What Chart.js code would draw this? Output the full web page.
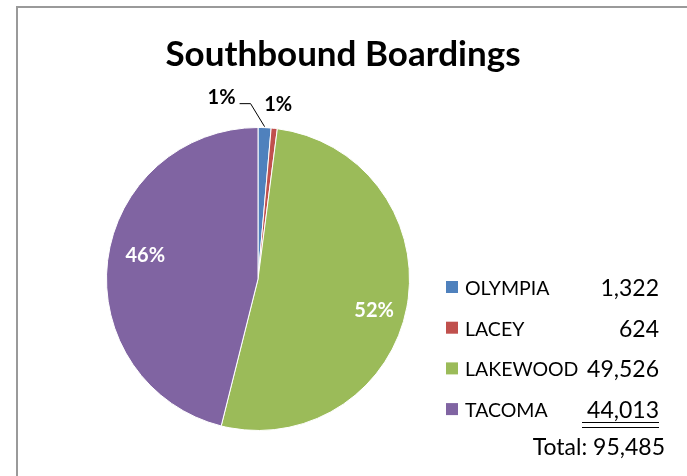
<!DOCTYPE html>
<html lang="en">
<head>
  <meta charset="UTF-8" />
  <title>Southbound Boardings</title>
  <script src="https://cdn.jsdelivr.net/npm/chart.js"></script>
  <style>
    html, body {
      margin: 0;
      padding: 0;
      background: #fff;
    }
    #wrap {
      width: 687px;
      height: 476px;
    }
  </style>
</head>
<body>

<div id="wrap"><canvas id="boardingsChart" width="687" height="476"></canvas></div>

<script>
  // data
  const chartTitle = 'Southbound Boardings';
  const stations = ['OLYMPIA', 'LACEY', 'LAKEWOOD', 'TACOMA'];
  const boardings = [1322, 624, 49526, 44013];
  const sliceColors = ['#4F81BD', '#C0504D', '#9BBB59', '#8064A2'];

  // where each percentage label sits relative to its slice
  // r = fraction of the radius along the mid angle, dx/dy = nudge in px
  const labelPlace = [
    { r: 1.0, dx: -43, dy: -30, color: '#000', leader: true },
    { r: 1.0, dx: 4, dy: -24, color: '#000', leader: false },
    { r: 0.78, dx: 0, dy: 10, color: '#fff', leader: false },
    { r: 0.75, dx: 0, dy: -10, color: '#fff', leader: false }
  ];

  const FONT = 'Lato, "Open Sans", sans-serif';
  const total = boardings.reduce((a, b) => a + b, 0);
  const fmt = n => n.toLocaleString('en-US');

  const overlay = {
    id: 'overlay',
    afterDraw(chart) {
      const ctx = chart.ctx;
      ctx.save();

      // frame of the chart area (only left and top are inside the picture)
      ctx.strokeStyle = '#9a9a9a';
      ctx.lineWidth = 2;
      ctx.strokeRect(17, 7, 800, 600);

      // title
      ctx.fillStyle = '#000';
      ctx.textAlign = 'center';
      ctx.textBaseline = 'alphabetic';
      ctx.font = 'bold 35px ' + FONT;
      ctx.fillText(chartTitle, 343, 66);

      // percentage labels
      const arcs = chart.getDatasetMeta(0).data;
      ctx.font = 'bold 20px ' + FONT;
      ctx.textBaseline = 'middle';
      arcs.forEach((arc, i) => {
        const p = arc.getProps(['x', 'y', 'startAngle', 'endAngle', 'outerRadius'], true);
        const mid = (p.startAngle + p.endAngle) / 2;
        const place = labelPlace[i];
        const ax = p.x + Math.cos(mid) * p.outerRadius * place.r;
        const ay = p.y + Math.sin(mid) * p.outerRadius * place.r;
        const lx = ax + place.dx;
        const ly = ay + place.dy;
        const pct = Math.round(boardings[i] / total * 100) + '%';
        ctx.fillStyle = place.color;
        ctx.fillText(pct, lx, ly);
        if (place.leader) {
          ctx.strokeStyle = '#000';
          ctx.lineWidth = 1;
          ctx.beginPath();
          ctx.moveTo(lx + 18, ly + 6);
          ctx.lineTo(lx + 29, ly + 6);
          ctx.lineTo(ax, ay - 1);
          ctx.stroke();
        }
      });

      // legend with values
      const rowTop = 287;
      const rowStep = 40.7;
      ctx.textBaseline = 'alphabetic';
      stations.forEach((name, i) => {
        const y = rowTop + i * rowStep;
        ctx.fillStyle = sliceColors[i];
        ctx.fillRect(446, y - 6, 12, 12);
        ctx.fillStyle = '#000';
        ctx.font = '19.5px ' + FONT;
        ctx.textAlign = 'left';
        ctx.fillText(name, 465, y + 8);
        ctx.font = '23px ' + FONT;
        ctx.textAlign = 'right';
        ctx.fillText(fmt(boardings[i]), 659, y + 9);
      });

      // double rule and total
      ctx.strokeStyle = '#000';
      ctx.lineWidth = 1;
      ctx.beginPath();
      ctx.moveTo(582, 422.5);
      ctx.lineTo(659, 422.5);
      ctx.moveTo(582, 427.5);
      ctx.lineTo(659, 427.5);
      ctx.stroke();
      ctx.font = '23px ' + FONT;
      ctx.textAlign = 'right';
      ctx.fillText('Total: ' + fmt(total), 665, 455);

      ctx.restore();
    }
  };

  new Chart(document.getElementById('boardingsChart'), {
    type: 'pie',
    data: {
      labels: stations,
      datasets: [{
        data: boardings,
        backgroundColor: sliceColors,
        borderColor: '#fff',
        borderWidth: 1
      }]
    },
    options: {
      responsive: false,
      animation: false,
      layout: {
        padding: { left: 106, right: 277, top: 127, bottom: 45 }
      },
      plugins: {
        legend: { display: false },
        title: { display: false },
        tooltip: { enabled: false }
      }
    },
    plugins: [overlay]
  });
</script>
</body>
</html>
